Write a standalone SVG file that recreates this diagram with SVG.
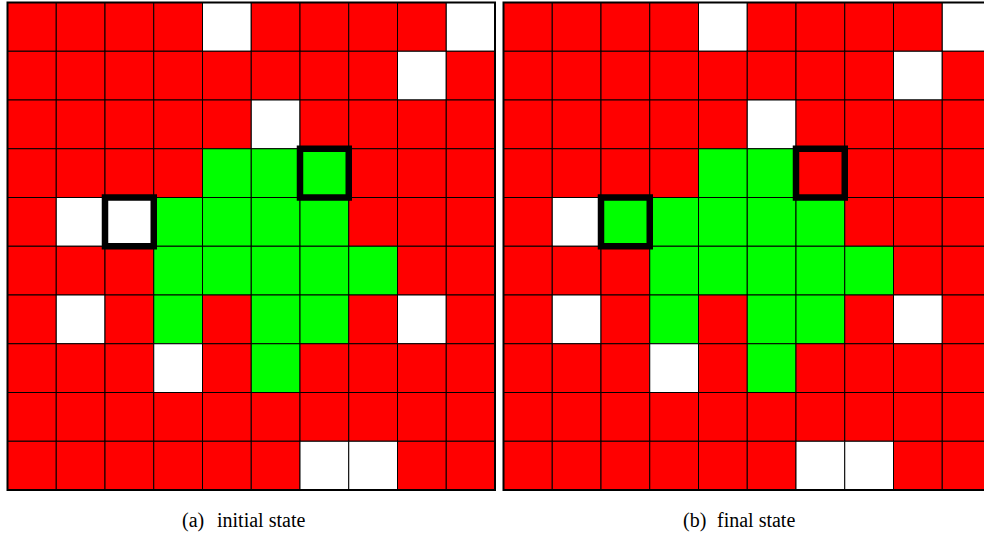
<svg xmlns="http://www.w3.org/2000/svg" width="984" height="536" viewBox="0 0 984 536">
<style>
.r{fill:#ff0000}
.g{fill:#00ff00}
.w{fill:#ffffff}
.cell rect{stroke:#000;stroke-width:1}
.border{fill:none;stroke:#000;stroke-width:2}
.bold{fill:none;stroke:#000;stroke-width:6.5}
.cap{font-size:20px;fill:#000}
</style>
<rect width="984" height="536" fill="#fff"/>
<defs>
<g id="base" class="cell">
<rect class="r" x="0" y="0" width="48.75" height="48.75"/>
<rect class="r" x="48.75" y="0" width="48.75" height="48.75"/>
<rect class="r" x="97.5" y="0" width="48.75" height="48.75"/>
<rect class="r" x="146.25" y="0" width="48.75" height="48.75"/>
<rect class="w" x="195" y="0" width="48.75" height="48.75"/>
<rect class="r" x="243.75" y="0" width="48.75" height="48.75"/>
<rect class="r" x="292.5" y="0" width="48.75" height="48.75"/>
<rect class="r" x="341.25" y="0" width="48.75" height="48.75"/>
<rect class="r" x="390" y="0" width="48.75" height="48.75"/>
<rect class="w" x="438.75" y="0" width="48.75" height="48.75"/>
<rect class="r" x="0" y="48.75" width="48.75" height="48.75"/>
<rect class="r" x="48.75" y="48.75" width="48.75" height="48.75"/>
<rect class="r" x="97.5" y="48.75" width="48.75" height="48.75"/>
<rect class="r" x="146.25" y="48.75" width="48.75" height="48.75"/>
<rect class="r" x="195" y="48.75" width="48.75" height="48.75"/>
<rect class="r" x="243.75" y="48.75" width="48.75" height="48.75"/>
<rect class="r" x="292.5" y="48.75" width="48.75" height="48.75"/>
<rect class="r" x="341.25" y="48.75" width="48.75" height="48.75"/>
<rect class="w" x="390" y="48.75" width="48.75" height="48.75"/>
<rect class="r" x="438.75" y="48.75" width="48.75" height="48.75"/>
<rect class="r" x="0" y="97.5" width="48.75" height="48.75"/>
<rect class="r" x="48.75" y="97.5" width="48.75" height="48.75"/>
<rect class="r" x="97.5" y="97.5" width="48.75" height="48.75"/>
<rect class="r" x="146.25" y="97.5" width="48.75" height="48.75"/>
<rect class="r" x="195" y="97.5" width="48.75" height="48.75"/>
<rect class="w" x="243.75" y="97.5" width="48.75" height="48.75"/>
<rect class="r" x="292.5" y="97.5" width="48.75" height="48.75"/>
<rect class="r" x="341.25" y="97.5" width="48.75" height="48.75"/>
<rect class="r" x="390" y="97.5" width="48.75" height="48.75"/>
<rect class="r" x="438.75" y="97.5" width="48.75" height="48.75"/>
<rect class="r" x="0" y="146.25" width="48.75" height="48.75"/>
<rect class="r" x="48.75" y="146.25" width="48.75" height="48.75"/>
<rect class="r" x="97.5" y="146.25" width="48.75" height="48.75"/>
<rect class="r" x="146.25" y="146.25" width="48.75" height="48.75"/>
<rect class="g" x="195" y="146.25" width="48.75" height="48.75"/>
<rect class="g" x="243.75" y="146.25" width="48.75" height="48.75"/>
<rect class="r" x="341.25" y="146.25" width="48.75" height="48.75"/>
<rect class="r" x="390" y="146.25" width="48.75" height="48.75"/>
<rect class="r" x="438.75" y="146.25" width="48.75" height="48.75"/>
<rect class="r" x="0" y="195" width="48.75" height="48.75"/>
<rect class="w" x="48.75" y="195" width="48.75" height="48.75"/>
<rect class="g" x="146.25" y="195" width="48.75" height="48.75"/>
<rect class="g" x="195" y="195" width="48.75" height="48.75"/>
<rect class="g" x="243.75" y="195" width="48.75" height="48.75"/>
<rect class="g" x="292.5" y="195" width="48.75" height="48.75"/>
<rect class="r" x="341.25" y="195" width="48.75" height="48.75"/>
<rect class="r" x="390" y="195" width="48.75" height="48.75"/>
<rect class="r" x="438.75" y="195" width="48.75" height="48.75"/>
<rect class="r" x="0" y="243.75" width="48.75" height="48.75"/>
<rect class="r" x="48.75" y="243.75" width="48.75" height="48.75"/>
<rect class="r" x="97.5" y="243.75" width="48.75" height="48.75"/>
<rect class="g" x="146.25" y="243.75" width="48.75" height="48.75"/>
<rect class="g" x="195" y="243.75" width="48.75" height="48.75"/>
<rect class="g" x="243.75" y="243.75" width="48.75" height="48.75"/>
<rect class="g" x="292.5" y="243.75" width="48.75" height="48.75"/>
<rect class="g" x="341.25" y="243.75" width="48.75" height="48.75"/>
<rect class="r" x="390" y="243.75" width="48.75" height="48.75"/>
<rect class="r" x="438.75" y="243.75" width="48.75" height="48.75"/>
<rect class="r" x="0" y="292.5" width="48.75" height="48.75"/>
<rect class="w" x="48.75" y="292.5" width="48.75" height="48.75"/>
<rect class="r" x="97.5" y="292.5" width="48.75" height="48.75"/>
<rect class="g" x="146.25" y="292.5" width="48.75" height="48.75"/>
<rect class="r" x="195" y="292.5" width="48.75" height="48.75"/>
<rect class="g" x="243.75" y="292.5" width="48.75" height="48.75"/>
<rect class="g" x="292.5" y="292.5" width="48.75" height="48.75"/>
<rect class="r" x="341.25" y="292.5" width="48.75" height="48.75"/>
<rect class="w" x="390" y="292.5" width="48.75" height="48.75"/>
<rect class="r" x="438.75" y="292.5" width="48.75" height="48.75"/>
<rect class="r" x="0" y="341.25" width="48.75" height="48.75"/>
<rect class="r" x="48.75" y="341.25" width="48.75" height="48.75"/>
<rect class="r" x="97.5" y="341.25" width="48.75" height="48.75"/>
<rect class="w" x="146.25" y="341.25" width="48.75" height="48.75"/>
<rect class="r" x="195" y="341.25" width="48.75" height="48.75"/>
<rect class="g" x="243.75" y="341.25" width="48.75" height="48.75"/>
<rect class="r" x="292.5" y="341.25" width="48.75" height="48.75"/>
<rect class="r" x="341.25" y="341.25" width="48.75" height="48.75"/>
<rect class="r" x="390" y="341.25" width="48.75" height="48.75"/>
<rect class="r" x="438.75" y="341.25" width="48.75" height="48.75"/>
<rect class="r" x="0" y="390" width="48.75" height="48.75"/>
<rect class="r" x="48.75" y="390" width="48.75" height="48.75"/>
<rect class="r" x="97.5" y="390" width="48.75" height="48.75"/>
<rect class="r" x="146.25" y="390" width="48.75" height="48.75"/>
<rect class="r" x="195" y="390" width="48.75" height="48.75"/>
<rect class="r" x="243.75" y="390" width="48.75" height="48.75"/>
<rect class="r" x="292.5" y="390" width="48.75" height="48.75"/>
<rect class="r" x="341.25" y="390" width="48.75" height="48.75"/>
<rect class="r" x="390" y="390" width="48.75" height="48.75"/>
<rect class="r" x="438.75" y="390" width="48.75" height="48.75"/>
<rect class="r" x="0" y="438.75" width="48.75" height="48.75"/>
<rect class="r" x="48.75" y="438.75" width="48.75" height="48.75"/>
<rect class="r" x="97.5" y="438.75" width="48.75" height="48.75"/>
<rect class="r" x="146.25" y="438.75" width="48.75" height="48.75"/>
<rect class="r" x="195" y="438.75" width="48.75" height="48.75"/>
<rect class="r" x="243.75" y="438.75" width="48.75" height="48.75"/>
<rect class="w" x="292.5" y="438.75" width="48.75" height="48.75"/>
<rect class="w" x="341.25" y="438.75" width="48.75" height="48.75"/>
<rect class="r" x="390" y="438.75" width="48.75" height="48.75"/>
<rect class="r" x="438.75" y="438.75" width="48.75" height="48.75"/>
</g>
</defs>

<g id="grid-a" transform="translate(7.5,2.5)">
<use href="#base"/>
<g class="cell">
<rect class="g" x="292.5" y="146.25" width="48.75" height="48.75"/>
<rect class="w" x="97.5" y="195" width="48.75" height="48.75"/>
</g>
<rect class="border" x="0" y="0" width="487.5" height="487.5"/>
<rect class="bold" x="292.5" y="146.25" width="48.75" height="48.75"/>
<rect class="bold" x="97.5" y="195" width="48.75" height="48.75"/>
</g>

<g id="grid-b" transform="translate(503.5,2.5)">
<use href="#base"/>
<g class="cell">
<rect class="r" x="292.5" y="146.25" width="48.75" height="48.75"/>
<rect class="g" x="97.5" y="195" width="48.75" height="48.75"/>
</g>
<rect class="border" x="0" y="0" width="487.5" height="487.5"/>
<rect class="bold" x="292.5" y="146.25" width="48.75" height="48.75"/>
<rect class="bold" x="97.5" y="195" width="48.75" height="48.75"/>
</g>

<g id="captions" font-family="'Liberation Serif', 'Times New Roman', serif">
<text class="cap" x="182" y="527">(a)</text>
<text class="cap" x="217" y="527">initial state</text>
<text class="cap" x="683" y="527">(b)</text>
<text class="cap" x="717" y="527">final state</text>
</g>
</svg>
